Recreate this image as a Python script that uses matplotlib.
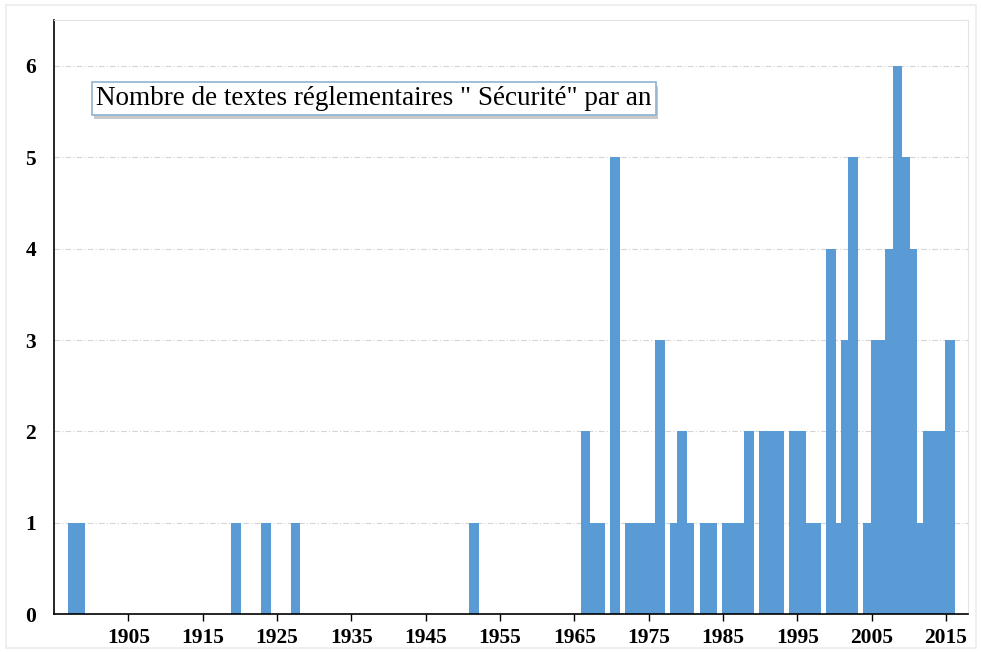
import matplotlib.pyplot as plt
from matplotlib.patches import Rectangle
import matplotlib.patheffects as pe

# nombre de textes "Sécurité" par année (années absentes = 0)
years = [1897, 1898, 1919, 1923, 1927, 1951,
         1966, 1967, 1968, 1970, 1972, 1973, 1974, 1975, 1976,
         1978, 1979, 1980, 1982, 1983, 1985, 1986, 1987, 1988,
         1990, 1991, 1992, 1994, 1995, 1996, 1997, 1999, 2000,
         2001, 2002, 2004, 2005, 2006, 2007, 2008, 2009, 2010,
         2011, 2012, 2013, 2014, 2015]
counts = [1, 1, 1, 1, 1, 1,
          2, 1, 1, 5, 1, 1, 1, 1, 3,
          1, 2, 1, 1, 1, 1, 1, 1, 2,
          2, 2, 2, 2, 2, 1, 1, 4, 1,
          3, 5, 1, 3, 3, 4, 6, 5, 4,
          1, 2, 2, 2, 3]
xticks = list(range(1905, 2016, 10))
yticks = [0, 1, 2, 3, 4, 5, 6]
label = 'Nombre de textes réglementaires " Sécurité" par an'

fig = plt.figure(figsize=(9.82, 6.52), dpi=100)
ax = fig.add_axes([0.055, 0.058, 0.931, 0.911])

# light grey outer frame
fig.patches.append(Rectangle((0.006, 0.006), 0.988, 0.986, transform=fig.transFigure,
                             fill=False, edgecolor="#ececec", linewidth=1.2))

ax.bar([y + 0.5 for y in years], counts, width=1.3, color="#5b9bd5", zorder=2)

ax.set_xlim(1895, 2018)
ax.set_ylim(0, 6.5)
ax.set_xticks(xticks)
ax.set_yticks(yticks)

font = {"family": "Liberation Serif", "weight": "bold", "size": 15.5}
ax.set_xticklabels([str(t) for t in xticks], fontdict=font)
ax.set_yticklabels([str(t) for t in yticks], fontdict=font)
ax.tick_params(axis="x", direction="out", length=5, width=1, pad=5)
ax.tick_params(axis="y", length=0, pad=13)

for y in yticks[1:]:
    ax.axhline(y, color="#d4d4d4", linewidth=0.8, linestyle=(0, (5, 2, 1, 2)), zorder=1)

ax.spines["left"].set_color("black")
ax.spines["bottom"].set_color("black")
ax.spines["left"].set_linewidth(1.2)
ax.spines["bottom"].set_linewidth(1.2)
ax.spines["top"].set_color("#e4e4e4")
ax.spines["right"].set_color("#e4e4e4")

t = ax.text(1900.7, 5.64, label, fontsize=19.5, family="Liberation Serif",
            va="center", ha="left", zorder=5,
            bbox=dict(boxstyle="square,pad=0.15", facecolor="white",
                      edgecolor="#8db3d3", linewidth=1.2))
t.get_bbox_patch().set_path_effects([pe.SimplePatchShadow(offset=(1.5, -2.5), alpha=0.3),
                                     pe.Normal()])

plt.savefig("out.png", dpi=100)
